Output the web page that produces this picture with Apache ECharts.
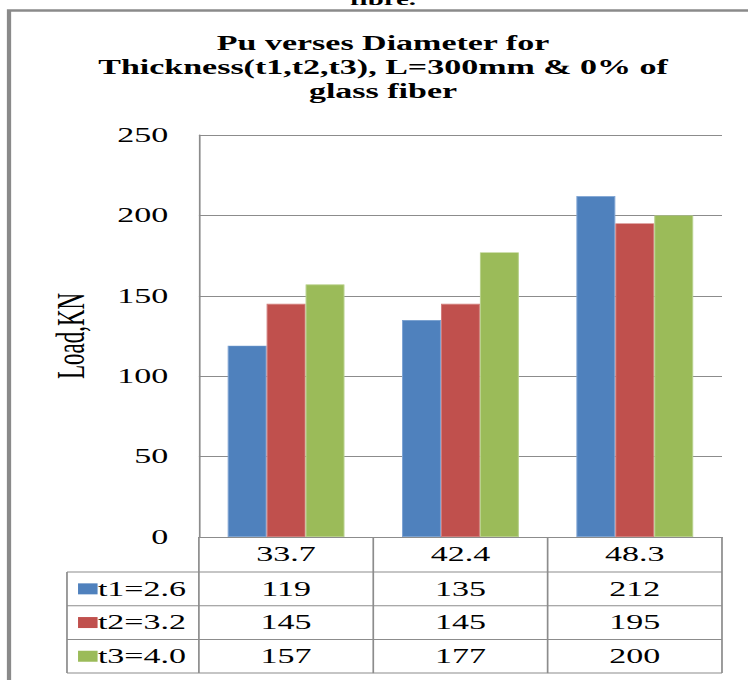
<!DOCTYPE html>
<html>
<head>
<meta charset="utf-8">
<script src="https://cdn.jsdelivr.net/npm/echarts@6/dist/echarts.min.js"></script>
<style>
  html, body { margin: 0; padding: 0; background: #fff; overflow: hidden; }
  #stage { width: 748px; height: 680px; overflow: hidden; position: relative; background: #fff; }
  /* the figure is drawn narrow and widened horizontally */
  #chart { width: 440px; height: 680px; transform: scaleX(1.7); transform-origin: 0 0; }
</style>
</head>
<body>
<div id="stage"><div id="chart"></div></div>
<script>
// ---- data ----
const categories = ['33.7', '42.4', '48.3'];
const seriesNames = ['t1=2.6', 't2=3.2', 't3=4.0'];
const t1Values = [119, 135, 212];
const t2Values = [145, 145, 195];
const t3Values = [157, 177, 200];
const yTicks = [0, 50, 100, 150, 200, 250];
const titleLines = ['Pu verses Diameter for', 'Thickness(t1,t2,t3), L=300mm & 0% of', 'glass fiber'];
const captionTail = 'fibre.';
const yAxisName = 'Load,KN';

// ---- styling ----
const colors = ['#4F81BD', '#C0504D', '#9BBB59'];
const edgeColors = ['#7EA3D3', '#D27C7A', '#B7D08A'];
const seriesValues = [t1Values, t2Values, t3Values];
const SERIF = 'Liberation Serif';
const GRAY = '#8c8c8c';
const W = 440, H = 680;
const gridTop = 135, gridBottomY = 537;
const headerH = 35, rowH = 33.7;
const rowCenters = seriesNames.map((_, i) => gridBottomY + headerH + rowH * i + rowH / 2);

const chart = echarts.init(document.getElementById('chart'), null, { renderer: 'svg' });

const labelFont = { fontFamily: SERIF, fontSize: 20, color: '#000' };

const xAxes = [{
  type: 'category',
  data: categories,
  position: 'bottom',
  axisLine: { show: true, lineStyle: { color: GRAY, width: 1 } },
  axisTick: { show: false },
  axisLabel: Object.assign({ margin: headerH / 2, verticalAlign: 'middle' }, labelFont)
}];
seriesValues.forEach((vals, i) => {
  xAxes.push({
    type: 'category',
    data: vals.map(String),
    position: 'bottom',
    offset: rowCenters[i] - gridBottomY,
    axisLine: { show: false },
    axisTick: { show: false },
    axisLabel: Object.assign({ margin: 0, verticalAlign: 'middle' }, labelFont)
  });
});

chart.setOption({
  animation: false,
  backgroundColor: '#fff',
  textStyle: { fontFamily: SERIF },
  grid: { left: 117, right: 15.3, top: gridTop, bottom: H - gridBottomY, containLabel: false },
  xAxis: xAxes,
  yAxis: {
    type: 'value',
    min: yTicks[0],
    max: yTicks[yTicks.length - 1],
    interval: yTicks[1] - yTicks[0],
    name: yAxisName,
    nameLocation: 'middle',
    nameGap: 64,
    nameRotate: 90,
    nameTextStyle: { fontFamily: SERIF, fontSize: 23, color: '#000' },
    axisLine: { show: true, lineStyle: { color: GRAY, width: 1 } },
    axisTick: { show: false },
    splitLine: { show: true, lineStyle: { color: GRAY, width: 1 } },
    axisLabel: Object.assign({ margin: 18 }, labelFont)
  },
  series: seriesNames.map((name, i) => ({
    name: name,
    type: 'bar',
    data: seriesValues[i],
    barGap: '0%',
    barCategoryGap: '33%',
    itemStyle: { color: colors[i], borderColor: edgeColors[i], borderWidth: 0.6 }
  }))
});

// ---- frame, title and data-table borders ----
const centers = categories.map(c => chart.convertToPixel({ xAxisIndex: 0 }, c));
const band = centers[1] - centers[0];
const colEdges = centers.map(c => c - band / 2).concat([centers[centers.length - 1] + band / 2]);
const yZero = chart.convertToPixel({ yAxisIndex: 0 }, 0);
const rowEdges = [yZero, yZero + headerH];
seriesNames.forEach((_, i) => rowEdges.push(yZero + headerH + rowH * (i + 1)));
const legendLeft = 39.4;
const tableRight = colEdges[colEdges.length - 1];
const tableBottom = rowEdges[rowEdges.length - 1];

const lineStyle = { stroke: GRAY, lineWidth: 1 };
const graphics = [];

// outer frame
graphics.push({ type: 'rect', shape: { x: 5.3, y: 10.5, width: W + 20, height: H + 20 },
  style: { fill: null, stroke: '#8a8a8a', lineWidth: 2.5 }, silent: true });

// caption tail from the previous line
graphics.push({ type: 'text', x: 225.3, y: 8,
  style: { text: captionTail, fontFamily: SERIF, fontWeight: 'bold', fontSize: 17, fill: '#000', align: 'center', verticalAlign: 'bottom' } });

// chart title
graphics.push({ type: 'text', x: 225.3, y: 31,
  style: { text: titleLines.join('\n'), fontFamily: SERIF, fontWeight: 'bold', fontSize: 20, lineHeight: 24, fill: '#000', align: 'center', verticalAlign: 'top' } });

// table horizontal rules
rowEdges.slice(1).forEach(y => {
  graphics.push({ type: 'line', shape: { x1: legendLeft, y1: y, x2: tableRight, y2: y }, style: lineStyle });
});
// legend column left border
graphics.push({ type: 'line', shape: { x1: legendLeft, y1: rowEdges[1], x2: legendLeft, y2: tableBottom }, style: lineStyle });
// column dividers
colEdges.forEach(x => {
  graphics.push({ type: 'line', shape: { x1: x, y1: yZero, x2: x, y2: tableBottom }, style: lineStyle });
});
// legend keys
seriesNames.forEach((name, i) => {
  const cy = (rowEdges[i + 1] + rowEdges[i + 2]) / 2;
  graphics.push({ type: 'rect', shape: { x: 45.9, y: cy - 5.5, width: 11.5, height: 11 }, style: { fill: colors[i] } });
  graphics.push({ type: 'text', x: 57.6, y: cy,
    style: { text: name, fontFamily: SERIF, fontSize: 20, fill: '#000', align: 'left', verticalAlign: 'middle' } });
});

chart.setOption({ graphic: graphics });
</script>
</body>
</html>
